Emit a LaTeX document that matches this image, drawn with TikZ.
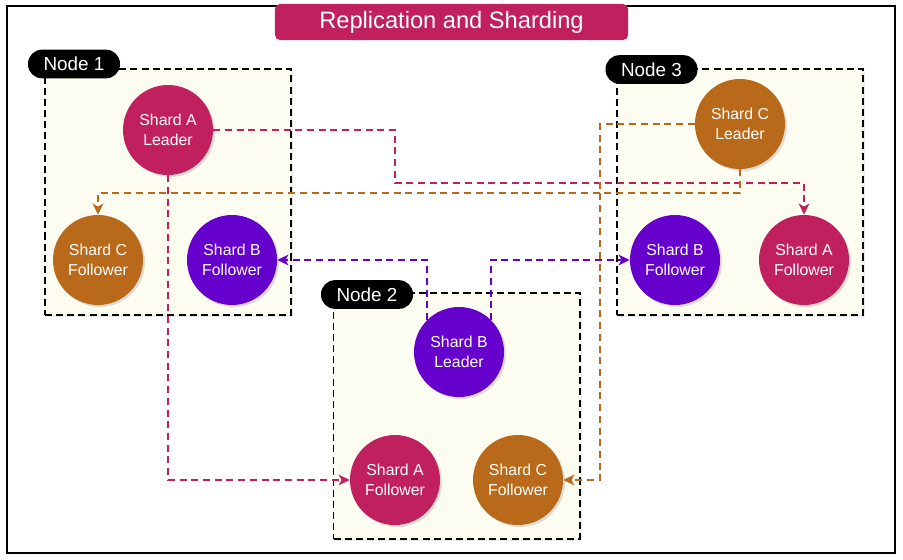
\documentclass[tikz,border=0pt]{standalone}
\usepackage{fontspec}
\setmainfont{Liberation Sans}
\usepackage{tikz}
\usetikzlibrary{
  arrows.meta
  , shadows
  % ------
}
\definecolor{shardA}{HTML}{C0215E}
\definecolor{shardB}{HTML}{6600CC}
\definecolor{shardC}{HTML}{B8691A}
\definecolor{hostfill}{HTML}{FCFCF0}

\begin{document}
\begin{tikzpicture}[x=0.03cm,y=-0.03cm,
    shard/.style={circle, minimum size=2.7cm, inner sep=0pt, text=white,
      align=center, font=\fontsize{13.5}{17}\selectfont,
      drop shadow={opacity=0.25, shadow xshift=0.06cm, shadow yshift=-0.06cm}},
    host/.style={draw=black, line width=1.7pt, dash pattern=on 6pt off 3.5pt,
      fill=hostfill, minimum width=7.38cm, minimum height=7.38cm,
      drop shadow={opacity=0.15, shadow xshift=0.06cm, shadow yshift=-0.06cm}},
    hostlabel/.style={fill=black, text=white, rounded corners=0.42cm,
      minimum width=2.76cm, minimum height=0.86cm,
      font=\fontsize{16.1}{19}\selectfont},
    link/.style={line width=1.5pt, dash pattern=on 6pt off 4pt,
      -{Stealth[length=9.5pt, width=9pt, inset=2.5pt]}}
  ]
      \useasboundingbox (0,0) rectangle (903,559);
      \draw [line width=1.5pt] (7,6) rectangle (895,553);

      \node [fill=shardA, text=white,
        rounded corners=0.15cm,
        minimum width = 10.59cm,
        minimum height = 1.08cm,
        font=\fontsize{20.2}{24}\selectfont] (title) at (451.5,22) {Replication and Sharding};

      % hosts
      \node [host] (host1) at (168,192) {};
      \node [host] (host2) at (456.5,416) {};
      \node [host] (host3) at (740,192) {};
      \node [hostlabel] (lab1) at (74,64) {Node 1};
      \node [hostlabel] (lab2) at (367,294.5) {Node 2};
      \node [hostlabel] (lab3) at (651.5,69.5) {Node 3};

      % shards
      \node [shard, fill=shardA] (sal) at (168,130) {Shard A\\Leader};
      \node [shard, fill=shardC] (scf1) at (98,260) {Shard C\\Follower};
      \node [shard, fill=shardB] (sbf1) at (232,260) {Shard B\\Follower};
      \node [shard, fill=shardB] (sbl) at (459,352) {Shard B\\Leader};
      \node [shard, fill=shardA] (saf2) at (395,480) {Shard A\\Follower};
      \node [shard, fill=shardC] (scf2) at (518,480) {Shard C\\Follower};
      \node [shard, fill=shardC] (scl) at (740,124) {Shard C\\Leader};
      \node [shard, fill=shardB] (sbf3) at (675,260) {Shard B\\Follower};
      \node [shard, fill=shardA] (saf3) at (804,260) {Shard A\\Follower};

      % replication
      \coordinate (bendA) at (395,183);
      \coordinate (bendC) at (98,193);
      \coordinate (railC) at (600,480);
      \draw [link, shardA] (sal.east) -| (bendA) -| (saf3);
      \draw [link, shardA] (sal.south) |- (saf2);
      \draw [link, shardC] (scl.south) |- (bendC) -- (scf1);
      \draw [link, shardC] (scl.west) -| (railC) -- (scf2);
      \draw [link, shardB] (sbl.135) |- (sbf1);
      \draw [link, shardB] (sbl.45) |- (sbf3);

    \end{tikzpicture}
\end{document}
